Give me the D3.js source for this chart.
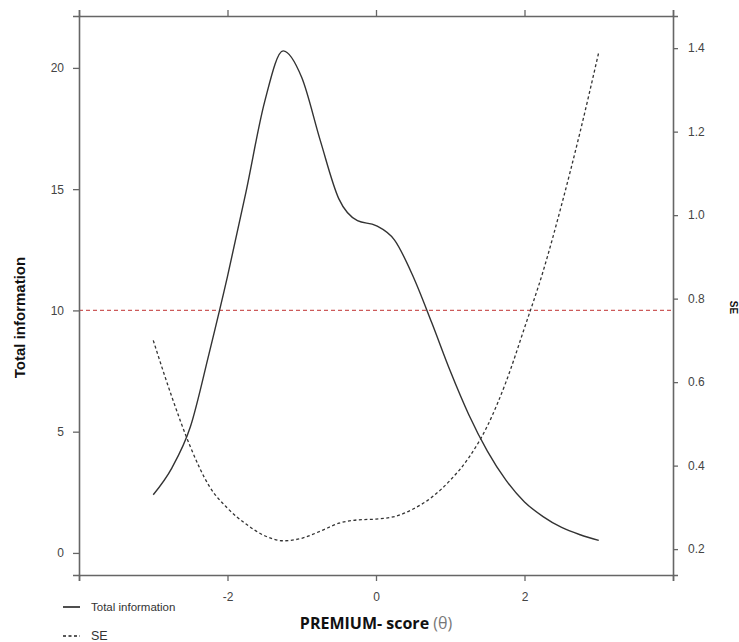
<!DOCTYPE html>
<html>
<head>
<meta charset="utf-8">
<script src="https://cdn.jsdelivr.net/npm/d3@7/dist/d3.min.js"></script>
<style>
  body { margin: 0; background: #fff; }
  text { font-family: "Liberation Sans", Arial, sans-serif; }
</style>
</head>
<body>
<svg id="chart" width="739" height="642"></svg>
<script>
// values
var theta = [-3, -2.75, -2.5, -2.25, -2, -1.75, -1.5, -1.25, -1, -0.75, -0.5, -0.25,
             0, 0.25, 0.5, 0.75, 1, 1.25, 1.5, 1.75, 2, 2.25, 2.5, 2.75, 3];
var totalInfo = [2.4, 3.5, 5.2, 8.2, 11.4, 14.9, 18.6, 20.7, 19.6, 17.0, 14.6, 13.7,
                 13.5, 12.9, 11.4, 9.5, 7.5, 5.7, 4.2, 3.0, 2.1, 1.5, 1.05, 0.75, 0.52];
var seValues = [0.70, 0.565, 0.445, 0.352, 0.298, 0.260, 0.232, 0.220, 0.226, 0.243, 0.262, 0.270,
                0.272, 0.278, 0.296, 0.324, 0.365, 0.419, 0.495, 0.600, 0.730, 0.865, 1.025, 1.200, 1.390];
var xTicks = [-4, -2, 0, 2, 4];
var xTickLabels = ["", "-2", "0", "2", ""];
var infoTicks = [0, 5, 10, 15, 20];
var seTicks = [0.2, 0.4, 0.6, 0.8, 1.0, 1.2, 1.4];
var refInfo = 10;
var legendLabels = ["Total information", "SE"];

var plotLeft = 79, plotRight = 673, plotTop = 16, plotBottom = 575;
var axisColor = "#666";
var lineColor = "#333";

var svg = d3.select("#chart");

var x = d3.scaleLinear().domain([-4, 4]).range([plotLeft, plotRight]);
var yInfo = d3.scaleLinear().domain([-0.91, 22.14]).range([plotBottom, plotTop]);
var ySE = d3.scaleLinear().domain([0.138, 1.477]).range([plotBottom, plotTop]);

function styleAxis(g) {
  g.selectAll("path.domain").attr("stroke", axisColor).attr("stroke-width", 1.6);
  g.selectAll(".tick line").attr("stroke", axisColor).attr("stroke-width", 1.3);
  g.selectAll(".tick text")
    .attr("fill", "#444")
    .style("font-size", "12px")
    .style("font-family", "'Liberation Sans', Arial, sans-serif");
}

// reference line at 10
svg.append("line")
  .attr("x1", plotLeft).attr("x2", plotRight)
  .attr("y1", yInfo(refInfo)).attr("y2", yInfo(refInfo))
  .attr("stroke", "#cc5a5a")
  .attr("stroke-width", 1.1)
  .attr("stroke-dasharray", "4,3");

// curves
var infoLine = d3.line()
  .x(function(d, i) { return x(theta[i]); })
  .y(function(d) { return yInfo(d); })
  .curve(d3.curveMonotoneX);

var seLine = d3.line()
  .x(function(d, i) { return x(theta[i]); })
  .y(function(d) { return ySE(d); })
  .curve(d3.curveMonotoneX);

svg.append("path")
  .attr("d", infoLine(totalInfo))
  .attr("fill", "none")
  .attr("stroke", lineColor)
  .attr("stroke-width", 1.4);

svg.append("path")
  .attr("d", seLine(seValues))
  .attr("fill", "none")
  .attr("stroke", lineColor)
  .attr("stroke-width", 1.3)
  .attr("stroke-dasharray", "3,2.5");

// axes
svg.append("g")
  .attr("transform", "translate(0," + plotBottom + ")")
  .call(d3.axisBottom(x).tickValues(xTicks).tickSizeOuter(0).tickSize(6).tickPadding(11)
    .tickFormat(function(d, i) { return xTickLabels[i]; }))
  .call(styleAxis);

svg.append("g")
  .attr("transform", "translate(0," + plotTop + ")")
  .call(d3.axisTop(x).tickValues(xTicks).tickSizeOuter(0).tickSize(6).tickFormat(""))
  .call(styleAxis);

svg.append("g")
  .attr("transform", "translate(" + plotLeft + ",0)")
  .call(d3.axisLeft(yInfo).tickValues(infoTicks).tickSizeOuter(0).tickSize(6).tickPadding(9)
    .tickFormat(d3.format("d")))
  .call(styleAxis);

svg.append("g")
  .attr("transform", "translate(" + plotRight + ",0)")
  .call(d3.axisRight(ySE).tickValues(seTicks).tickSizeOuter(0).tickSize(5).tickPadding(10)
    .tickFormat(d3.format(".1f")))
  .call(styleAxis);

// axis titles
svg.append("text")
  .attr("transform", "translate(25," + ((plotTop + plotBottom) / 2 + 22) + ") rotate(-90)")
  .attr("text-anchor", "middle")
  .style("font-size", "15px")
  .style("font-weight", "bold")
  .attr("fill", "#111")
  .text("Total information");

svg.append("text")
  .attr("transform", "translate(730," + ((plotTop + plotBottom) / 2 + 12) + ") rotate(90)")
  .attr("text-anchor", "middle")
  .style("font-size", "10px")
  .style("font-weight", "bold")
  .attr("fill", "#111")
  .text("SE");

var xTitle = svg.append("text")
  .attr("x", x(0))
  .attr("y", 629)
  .attr("text-anchor", "middle")
  .style("font-family", "'Open Sans', sans-serif")
  .style("font-size", "16px")
  .style("font-weight", "bold")
  .attr("fill", "#111");
xTitle.append("tspan").text("PREMIUM- score ");
xTitle.append("tspan").attr("fill", "#777").style("font-weight", "normal").text("(\u03b8)");

// legend
var legend = svg.append("g");
legend.selectAll("line")
  .data(legendLabels)
  .join("line")
  .attr("x1", 63).attr("x2", 80)
  .attr("y1", function(d, i) { return 607 + i * 29; })
  .attr("y2", function(d, i) { return 607 + i * 29; })
  .attr("stroke", "#222")
  .attr("stroke-width", 1.6)
  .attr("stroke-dasharray", function(d, i) { return i === 0 ? null : "3,2.5"; });

legend.selectAll("text")
  .data(legendLabels)
  .join("text")
  .attr("x", 91)
  .attr("y", function(d, i) { return 611 + i * 29; })
  .style("font-size", function(d, i) { return i === 0 ? "11.5px" : "12.5px"; })
  .attr("fill", "#333")
  .text(function(d) { return d; });
</script>
</body>
</html>
